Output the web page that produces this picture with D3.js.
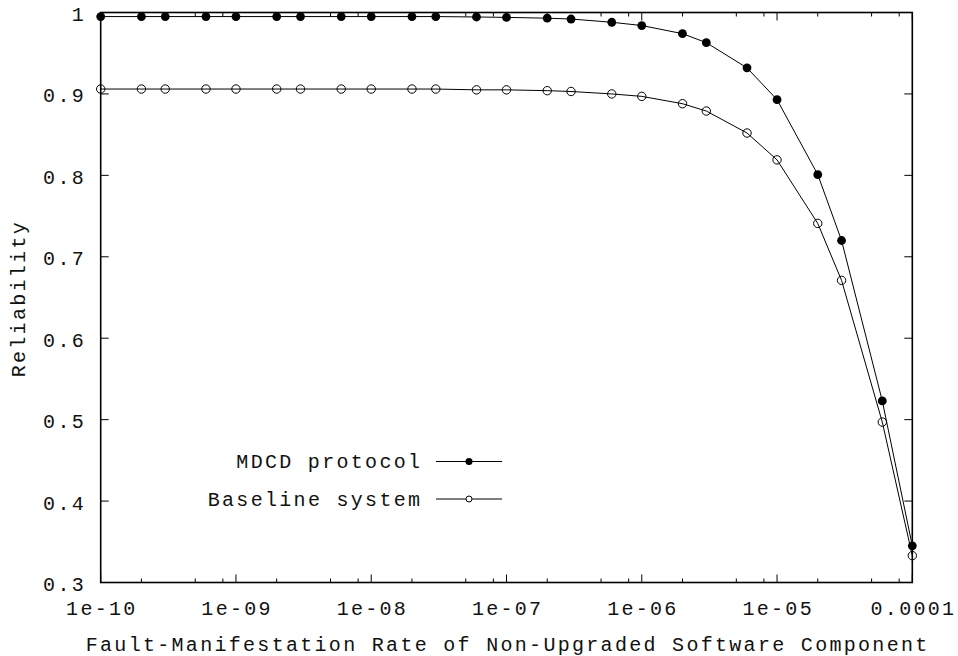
<!DOCTYPE html>
<html>
<head>
<meta charset="utf-8">
<script src="https://cdn.jsdelivr.net/npm/d3@7"></script>
<style>
  body { margin: 0; background: #fff; }
  text { font-family: "Liberation Mono", "DejaVu Sans Mono", monospace; font-size: 20px; letter-spacing: 2.3px; fill: #111; }
</style>
</head>
<body>
<div id="chart"></div>
<script>
/* DATA */
const rates = [1e-10, 2e-10, 3e-10, 6e-10, 1e-9, 2e-9, 3e-9, 6e-9, 1e-8, 2e-8, 3e-8, 6e-8,
  1e-7, 2e-7, 3e-7, 6e-7, 1e-6, 2e-6, 3e-6, 6e-6, 1e-5, 2e-5, 3e-5, 6e-5, 1e-4];
const mdcd = [0.995, 0.995, 0.995, 0.995, 0.995, 0.995, 0.995, 0.995, 0.995, 0.995, 0.995, 0.9945,
  0.994, 0.993, 0.992, 0.988, 0.984, 0.974, 0.963, 0.932, 0.893, 0.801, 0.720, 0.523, 0.345];
const baseline = [0.906, 0.906, 0.906, 0.906, 0.906, 0.906, 0.906, 0.906, 0.906, 0.906, 0.906, 0.905,
  0.905, 0.904, 0.903, 0.900, 0.897, 0.888, 0.879, 0.852, 0.819, 0.741, 0.671, 0.497, 0.333];
const xTicks = [1e-10, 1e-9, 1e-8, 1e-7, 1e-6, 1e-5, 1e-4];
const xTickLabels = ["1e-10", "1e-09", "1e-08", "1e-07", "1e-06", "1e-05", "0.0001"];
const yTicks = [0.3, 0.4, 0.5, 0.6, 0.7, 0.8, 0.9, 1];
const yTickLabels = ["0.3", "0.4", "0.5", "0.6", "0.7", "0.8", "0.9", "1"];
const seriesNames = ["MDCD protocol", "Baseline system"];

/* CONSTANTS */
const width = 958, height = 656,
  margin = { top: 12.5, right: 45.7, bottom: 73.5, left: 100.7 };
const ls = 2.3; // letter spacing, trailing space compensation

const svg = d3.select("#chart").append("svg")
  .attr("width", width)
  .attr("height", height);

const xScale = d3.scaleLog().domain([1e-10, 1e-4]).range([margin.left, width - margin.right]);
const yScale = d3.scaleLinear().domain([0.3, 1]).range([height - margin.bottom, margin.top]);

// minor ticks at 2, 5, 8 of each decade (as in the original)
const minorTicks = xTicks.slice(0, -1).flatMap(d => [2 * d, 5 * d, 8 * d]);

const g = svg.append("g");

const tickLine = (sel, x1, y1, x2, y2) => sel.append("line")
  .attr("x1", x1).attr("y1", y1).attr("x2", x2).attr("y2", y2)
  .attr("stroke", "#000").attr("stroke-width", 1);

const yb = yScale(0.3), yt = yScale(1), xl = xScale(1e-10), xr = xScale(1e-4);
xTicks.forEach(d => {
  tickLine(g, xScale(d), yb, xScale(d), yb - 8);
  tickLine(g, xScale(d), yt, xScale(d), yt + 8);
});
minorTicks.forEach(d => {
  tickLine(g, xScale(d), yb, xScale(d), yb - 4);
  tickLine(g, xScale(d), yt, xScale(d), yt + 4);
});
yTicks.forEach(d => {
  tickLine(g, xl, yScale(d), xl + 8, yScale(d));
  tickLine(g, xr, yScale(d), xr - 8, yScale(d));
});

// border
g.append("rect")
  .attr("x", xl).attr("y", yt)
  .attr("width", xr - xl).attr("height", yb - yt)
  .attr("fill", "none").attr("stroke", "#000").attr("stroke-width", 1.6);

// tick labels
g.selectAll(".xlab").data(xTicks).join("text")
  .attr("class", "xlab")
  .attr("x", d => xScale(d) + ls / 2)
  .attr("y", yb + 32.5)
  .attr("text-anchor", "middle")
  .text((d, i) => xTickLabels[i]);

g.selectAll(".ylab").data(yTicks).join("text")
  .attr("class", "ylab")
  .attr("x", xl - 17 + ls)
  .attr("y", d => yScale(d) + 8.5)
  .attr("text-anchor", "end")
  .text((d, i) => yTickLabels[i]);

// axis titles
svg.append("text")
  .attr("x", (xl + xr) / 2 + ls / 2)
  .attr("y", 651)
  .attr("text-anchor", "middle")
  .text("Fault-Manifestation Rate of Non-Upgraded Software Component");

svg.append("text")
  .attr("transform", `translate(25,${(yt + yb) / 2 + ls / 2}) rotate(-90)`)
  .attr("text-anchor", "middle")
  .text("Reliability");

// lines
const series = [
  { name: seriesNames[0], values: mdcd, filled: true },
  { name: seriesNames[1], values: baseline, filled: false }
];

const line = d3.line()
  .x(d => xScale(d[0]))
  .y(d => yScale(d[1]));

series.forEach(s => {
  const pts = rates.map((r, i) => [r, s.values[i]]);
  svg.append("path")
    .datum(pts)
    .attr("d", line)
    .attr("fill", "none")
    .attr("stroke", "#000")
    .attr("stroke-width", 1);
  svg.selectAll(null).data(pts).join("circle")
    .attr("cx", d => xScale(d[0]))
    .attr("cy", d => yScale(d[1]))
    .attr("r", s.filled ? 4.4 : 4.2)
    .attr("fill", s.filled ? "#000" : "none")
    .attr("stroke", "#000")
    .attr("stroke-width", s.filled ? 0 : 1);
});

// legend
const legendY = [461.5, 499];
series.forEach((s, i) => {
  const lg = svg.append("g");
  lg.append("text")
    .attr("x", 420 + ls)
    .attr("y", legendY[i] + 6.5)
    .attr("text-anchor", "end")
    .text(s.name);
  lg.append("line")
    .attr("x1", 436).attr("x2", 502)
    .attr("y1", legendY[i]).attr("y2", legendY[i])
    .attr("stroke", "#000").attr("stroke-width", 1);
  lg.append("circle")
    .attr("cx", 469).attr("cy", legendY[i])
    .attr("r", s.filled ? 3.5 : 3)
    .attr("fill", s.filled ? "#000" : "#fff")
    .attr("stroke", "#000")
    .attr("stroke-width", s.filled ? 0 : 1);
});
</script>
</body>
</html>
